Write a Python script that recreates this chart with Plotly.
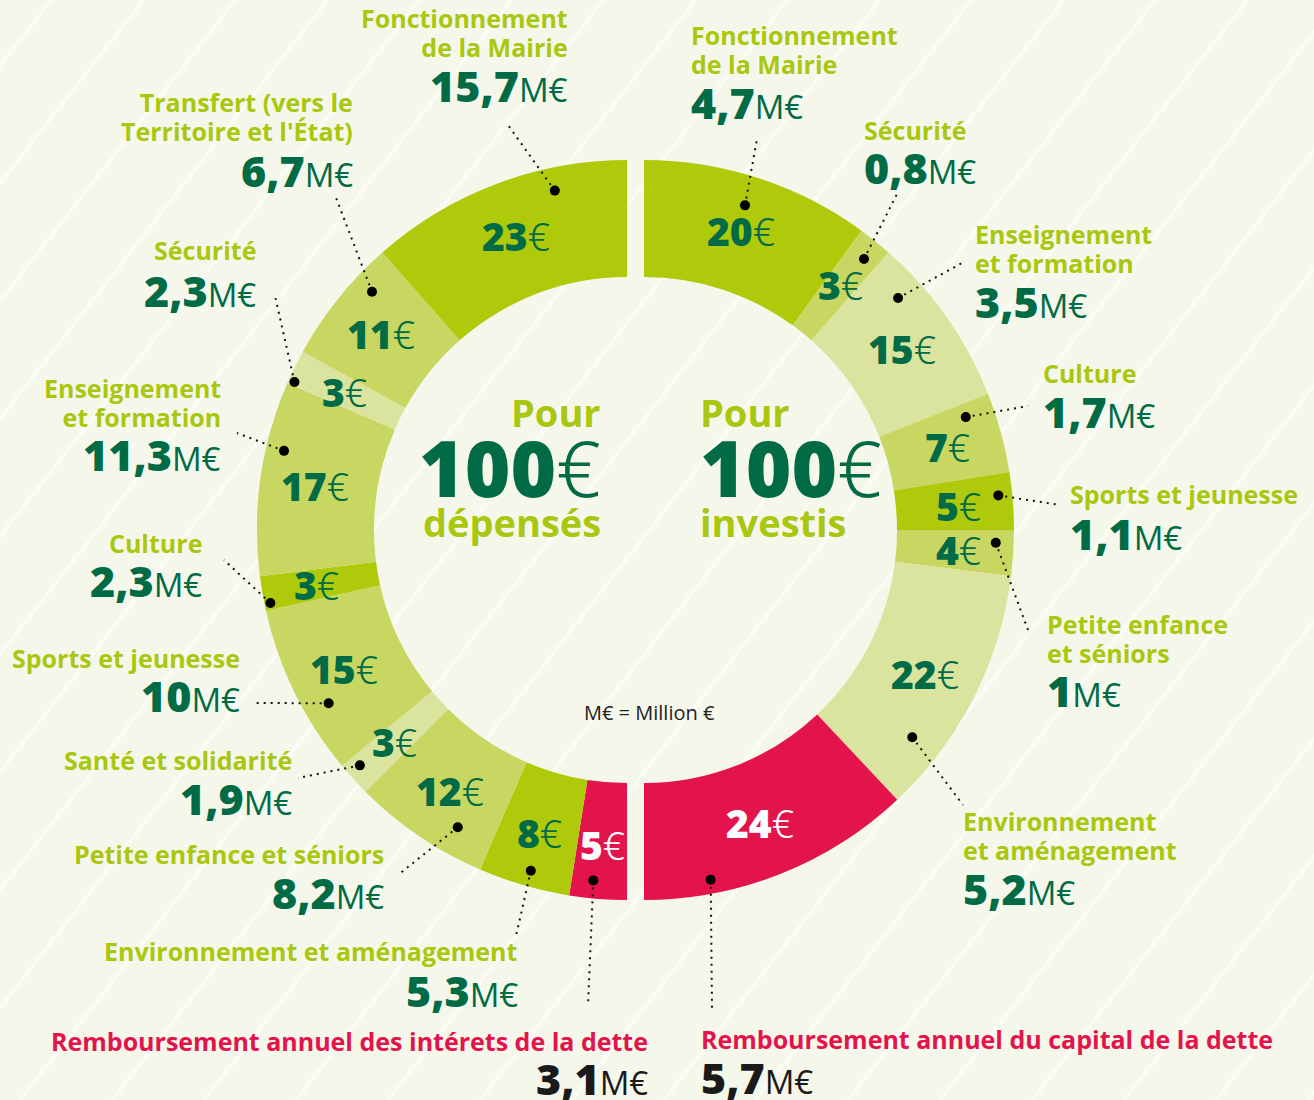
import math
import plotly.graph_objects as go

W, H = 1314, 1100

# ---------------- DATA ----------------
# "Pour 100€ investis" (right half, clockwise from top)
inv_categories = ["Fonctionnement\nde la Mairie", "Sécurité", "Enseignement\net formation", "Culture",
                  "Sports et jeunesse", "Petite enfance\net séniors", "Environnement\net aménagement",
                  "Remboursement annuel du capital de la dette"]
inv_per100 = [20, 3, 15, 7, 5, 4, 22, 24]
inv_meur = ["4,7", "0,8", "3,5", "1,7", "1,1", "1", "5,2", "5,7"]

# "Pour 100€ dépensés" (left half, clockwise from bottom up to top)
dep_categories = ["Remboursement annuel des intérets de la dette", "Environnement et aménagement",
                  "Petite enfance et séniors", "Santé et solidarité", "Sports et jeunesse", "Culture",
                  "Enseignement\net formation", "Sécurité", "Transfert (vers le\nTerritoire et l'État)",
                  "Fonctionnement\nde la Mairie"]
dep_per100 = [5, 8, 12, 3, 15, 3, 17, 3, 11, 23]
dep_meur = ["3,1", "5,3", "8,2", "1,9", "10", "2,3", "11,3", "2,3", "6,7", "15,7"]

# ---------------- STYLE ----------------
BG = "#f6f7eb"
LIME = "#afca0b"
MID = "#c8d762"
LIGHT = "#dbe49f"
RED = "#e3144b"
DARK = "#006b45"
TITLE_GREEN = "#a9c70e"
FONT = "Open Sans"
NUMFONT = "Noto Sans"

inv_colors = [LIME, MID, LIGHT, MID, LIME, MID, LIGHT, RED]
dep_colors = [RED, LIME, MID, LIGHT, MID, LIME, MID, LIGHT, MID, LIME]

R_OUT, R_IN = 370, 253
CY = 530
CX_L, CX_R = 627, 644
LABEL_R = 315

# label layout (pixel positions of the external callouts)
inv_lab = [  # x, title_y (centre of block), value_y, leader_end
    (689, 49.5, 102, (757, 139)),
    (862, 130, 168, (897, 194)),
    (973, 248.5, 301, (962, 263)),
    (1041, 373, 411, (1028, 406)),
    (1068, 494, 533, (1060, 505)),
    (1045, 638.5, 690, (1028, 630)),
    (961, 835.5, 888, (963, 805)),
    (699, 1039, 1077, (712, 1008)),
]
dep_lab = [
    (650, 1041, 1078, (588, 1006)),
    (520, 951, 990, (516, 936)),
    (386, 854, 892, (398, 875)),
    (294, 760, 798, (298, 778)),
    (242, 658, 695, (255, 703)),
    (204, 543, 580, (224, 560)),
    (223, 402.5, 455, (237, 433)),
    (258, 250, 290, (275, 296)),
    (355, 117, 170, (335, 195)),
    (570, 32.5, 85, (508, 125)),
]
# dot placement inside slice: (fraction along slice clockwise, radius)
inv_dot = [(0.48, 340), (0.57, 349), (0.23, 344), (0.18, 341), (0.38, 356), (0.29, 352), (0.77, 339), (0.75, 356)]
dep_dot = [(0.61, 352), (0.47, 354), (0.29, 342), (0.67, 356), (0.35, 345), (0.19, 364), (0.66, 352),
           (0.11, 364), (0.72, 349), (0.71, 347)]


def px(x):
    return x / W


def py(y):
    return 1 - y / H


def polar(cx, theta_deg, r):
    t = math.radians(theta_deg)
    return cx + r * math.sin(t), CY - r * math.cos(t)


fig = go.Figure()

# right half pie (investis)
fig.add_trace(go.Pie(
    values=inv_per100 + [sum(inv_per100)],
    labels=[c.replace("\n", " ") for c in inv_categories] + ["_blank_r"],
    marker=dict(colors=inv_colors + ["rgba(0,0,0,0)"], line=dict(width=0)),
    sort=False, direction="clockwise", rotation=0, hole=R_IN / R_OUT,
    textinfo="none", hoverinfo="skip", showlegend=False,
    domain=dict(x=[px(CX_R - R_OUT), px(CX_R + R_OUT)], y=[py(CY + R_OUT), py(CY - R_OUT)]),
))
# left half pie (dépensés)
fig.add_trace(go.Pie(
    values=[sum(dep_per100)] + dep_per100,
    labels=["_blank_l"] + [c.replace("\n", " ") + " " for c in dep_categories],
    marker=dict(colors=["rgba(0,0,0,0)"] + dep_colors, line=dict(width=0)),
    sort=False, direction="clockwise", rotation=0, hole=R_IN / R_OUT,
    textinfo="none", hoverinfo="skip", showlegend=False,
    domain=dict(x=[px(CX_L - R_OUT), px(CX_L + R_OUT)], y=[py(CY + R_OUT), py(CY - R_OUT)]),
))

shapes = []
annotations = []

# background diagonal stripes
tan_a = math.tan(math.radians(52))
for x0 in range(-900, W + 90, 92):
    shapes.append(dict(type="line", xref="paper", yref="paper", layer="below",
                       x0=px(x0), y0=py(H), x1=px(x0 + H / tan_a), y1=py(0),
                       line=dict(color="rgba(255,255,255,0.55)", width=4)))


def value_text(v):
    return (f"<span style='font-weight:900;font-size:43px'>{v}</span>"
            f"<span style='font-family:Open Sans;font-weight:500;font-size:33px'>M€</span>")


def add_half(values, meur, cats, colors, labs, dots, cx, start_theta, side):
    scale = 180.0 / sum(values)
    cum = 0
    for i, v in enumerate(values):
        a0 = start_theta + cum * scale
        a1 = start_theta + (cum + v) * scale
        cum += v
        mid = (a0 + a1) / 2
        lx, ly = polar(cx, mid, LABEL_R)
        is_red = colors[i] == RED
        annotations.append(dict(
            x=px(lx), y=py(ly), xref="paper", yref="paper", showarrow=False,
            xanchor="center", yanchor="middle",
            text=(f"<span style='font-weight:900'>{v}</span>"
                  f"<span style='font-weight:300'>€</span>"),
            font=dict(family=NUMFONT, size=39, color="white" if is_red else DARK)))
        # dot + leader
        frac, rr = dots[i]
        dx, dy = polar(cx, a0 + frac * (a1 - a0), rr)
        lxp, typ, vy, (ex, ey) = labs[i]
        shapes.append(dict(type="line", xref="paper", yref="paper", layer="above",
                           x0=px(dx), y0=py(dy), x1=px(ex), y1=py(ey),
                           line=dict(color="#111", width=2, dash="2px,5px")))
        shapes.append(dict(type="circle", xref="paper", yref="paper", layer="above",
                           x0=px(dx - 5), x1=px(dx + 5), y0=py(dy + 5), y1=py(dy - 5),
                           fillcolor="#000", line=dict(width=0)))
        # external title + value
        anchor = "left" if side == "right" else "right"
        title = "<br>".join(f"<span style='font-size:25px'>{ln}</span>" for ln in cats[i].split("\n"))
        annotations.append(dict(
            x=px(lxp), y=py(typ), xref="paper", yref="paper", showarrow=False,
            xanchor=anchor, yanchor="middle", align=anchor, text=title,
            font=dict(family=FONT, size=22.3, weight=700, color=RED if is_red else TITLE_GREEN)))
        annotations.append(dict(
            x=px(lxp), y=py(vy), xref="paper", yref="paper", showarrow=False,
            xanchor=anchor, yanchor="middle", align=anchor,
            text=value_text(meur[i]),
            font=dict(family=NUMFONT, size=43, color="#1a1a1a" if is_red else DARK)))


add_half(inv_per100, inv_meur, inv_categories, inv_colors, inv_lab, inv_dot, CX_R, 0, "right")
add_half(dep_per100, dep_meur, dep_categories, dep_colors, dep_lab, dep_dot, CX_L, 180, "left")

# centre texts
for xx, anchor, word in [(603, "right", "dépensés"), (698, "left", "investis")]:
    annotations.append(dict(x=px(xx), y=py(412), xref="paper", yref="paper", showarrow=False,
                            xanchor=anchor, yanchor="middle", text="Pour",
                            font=dict(family=FONT, size=38, weight=700, color=TITLE_GREEN)))
    annotations.append(dict(x=px(xx), y=py(467), xref="paper", yref="paper", showarrow=False,
                            xanchor=anchor, yanchor="middle",
                            text="<span style='font-weight:900'>100</span><span style='font-weight:300'>€</span>",
                            font=dict(family=NUMFONT, size=78, color=DARK)))
    annotations.append(dict(x=px(xx), y=py(522), xref="paper", yref="paper", showarrow=False,
                            xanchor=anchor, yanchor="middle", text=word,
                            font=dict(family=FONT, size=38, weight=700, color=TITLE_GREEN)))

annotations.append(dict(x=px(649), y=py(712), xref="paper", yref="paper", showarrow=False,
                        xanchor="center", yanchor="middle", text="M€ = Million €",
                        font=dict(family=FONT, size=20, color="#222")))

fig.update_layout(
    width=W, height=H, margin=dict(l=0, r=0, t=0, b=0),
    paper_bgcolor=BG, plot_bgcolor=BG,
    shapes=shapes, annotations=annotations, showlegend=False,
)

fig.write_html("out.html", config={"displayModeBar": False},
               post_script="document.body.style.margin='0';")
